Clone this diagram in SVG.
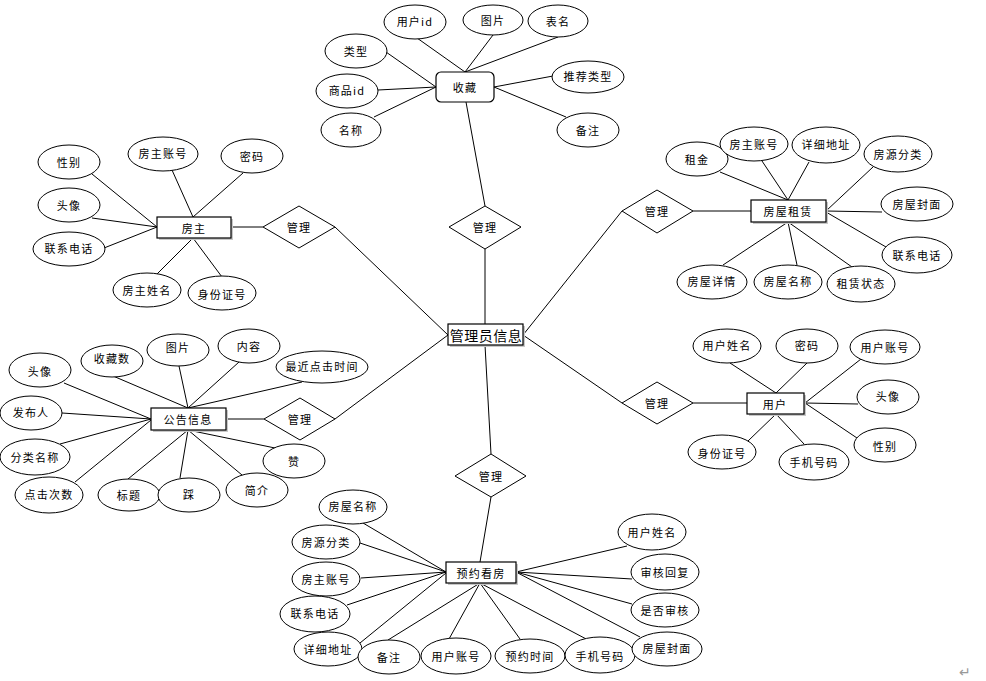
<svg xmlns="http://www.w3.org/2000/svg" width="986" height="681" viewBox="0 0 986 681">
<style>
.bg{fill:#fff}
.e{fill:#fff;stroke:#000;stroke-width:1}
.r{fill:#fff;stroke:#000;stroke-width:1.2}
.sh{fill:#c8c8c8;stroke:none}
.d{fill:#fff;stroke:#000;stroke-width:1}
.c line{stroke:#000;stroke-width:1}
text{font-family:"Noto Sans CJK SC","Noto Sans",sans-serif;font-size:11px;fill:#000;text-anchor:middle;dominant-baseline:central;letter-spacing:1.2px}
.big{font-size:14px;letter-spacing:0.5px}
</style>
<rect class="bg" x="0" y="0" width="986" height="681"/>
<g class="c" id="connectors">
<!-- center links -->
<line x1="485" y1="324" x2="485" y2="249"/>
<line x1="485" y1="206" x2="466" y2="102"/>
<line x1="485" y1="345" x2="491" y2="454"/>
<line x1="491" y1="497" x2="480" y2="562"/>
<line x1="448" y1="335" x2="335" y2="227"/>
<line x1="263" y1="227" x2="231" y2="227"/>
<line x1="448" y1="335" x2="335" y2="419"/>
<line x1="264" y1="419" x2="226" y2="419"/>
<line x1="523" y1="335" x2="622" y2="211"/>
<line x1="693" y1="211" x2="751" y2="211"/>
<line x1="523" y1="335" x2="622" y2="403"/>
<line x1="693" y1="403" x2="747" y2="403"/>
<!-- 收藏 -->
<line x1="465" y1="72" x2="417" y2="38"/>
<line x1="465" y1="72" x2="493" y2="35"/>
<line x1="465" y1="72" x2="558" y2="37"/>
<line x1="436" y1="87" x2="386" y2="52"/>
<line x1="436" y1="87" x2="378" y2="90"/>
<line x1="436" y1="87" x2="374" y2="117"/>
<line x1="494" y1="87" x2="553" y2="76"/>
<line x1="494" y1="87" x2="566" y2="117"/>
<!-- 房主 -->
<line x1="157" y1="227" x2="92" y2="174"/>
<line x1="157" y1="227" x2="92" y2="218"/>
<line x1="157" y1="227" x2="104" y2="248"/>
<line x1="193" y1="217" x2="172" y2="170"/>
<line x1="193" y1="217" x2="243" y2="173"/>
<line x1="193" y1="238" x2="157" y2="274"/>
<line x1="193" y1="238" x2="222" y2="277"/>
<!-- 房屋租赁 -->
<line x1="788" y1="200" x2="720" y2="172"/>
<line x1="788" y1="200" x2="762" y2="161"/>
<line x1="788" y1="200" x2="809" y2="162"/>
<line x1="826" y1="211" x2="873" y2="167"/>
<line x1="826" y1="211" x2="882" y2="212"/>
<line x1="826" y1="212" x2="886" y2="247"/>
<line x1="788" y1="222" x2="723" y2="265"/>
<line x1="788" y1="222" x2="797" y2="265"/>
<line x1="788" y1="222" x2="852" y2="267"/>
<!-- 公告信息 -->
<line x1="151" y1="419" x2="64" y2="383"/>
<line x1="151" y1="419" x2="62" y2="413"/>
<line x1="151" y1="419" x2="60" y2="444"/>
<line x1="151" y1="420" x2="75" y2="482"/>
<line x1="188" y1="408" x2="113" y2="376"/>
<line x1="188" y1="408" x2="179" y2="366"/>
<line x1="188" y1="408" x2="239" y2="362"/>
<line x1="188" y1="408" x2="302" y2="382"/>
<line x1="188" y1="430" x2="128" y2="479"/>
<line x1="188" y1="430" x2="180" y2="478"/>
<line x1="188" y1="430" x2="242" y2="475"/>
<line x1="188" y1="430" x2="275" y2="448"/>
<!-- 用户 -->
<line x1="776" y1="393" x2="730" y2="363"/>
<line x1="776" y1="393" x2="807" y2="363"/>
<line x1="805" y1="403" x2="861" y2="359"/>
<line x1="805" y1="403" x2="858" y2="404"/>
<line x1="805" y1="403" x2="857" y2="438"/>
<line x1="776" y1="414" x2="748" y2="441"/>
<line x1="776" y1="414" x2="804" y2="444"/>
<!-- 预约看房 -->
<line x1="446" y1="572" x2="363" y2="523"/>
<line x1="446" y1="572" x2="360" y2="543"/>
<line x1="446" y1="572" x2="361" y2="578"/>
<line x1="446" y1="572" x2="347" y2="605"/>
<line x1="446" y1="573" x2="360" y2="643"/>
<line x1="480" y1="583" x2="388" y2="640"/>
<line x1="480" y1="583" x2="449" y2="639"/>
<line x1="480" y1="583" x2="520" y2="639"/>
<line x1="480" y1="583" x2="590" y2="641"/>
<line x1="516" y1="572" x2="627" y2="546"/>
<line x1="516" y1="572" x2="632" y2="579"/>
<line x1="516" y1="572" x2="632" y2="604"/>
<line x1="516" y1="572" x2="640" y2="637"/>
</g>

<g id="admin">
<rect class="sh" x="450" y="326" width="75" height="21"/>
<rect class="r" x="448" y="324" width="75" height="21"/>
<text class="big" x="486" y="334.5">管理员信息</text>
</g>

<g id="rel-top"><polygon class="d" points="485,206 521,227 485,249 449,227"/><text x="485" y="227">管理</text></g>
<g id="rel-bottom"><polygon class="d" points="491,454 526,476 491,497 455,476"/><text x="491" y="476">管理</text></g>
<g id="rel-fangzhu"><polygon class="d" points="299,206 335,227 299,248 263,227"/><text x="299" y="227">管理</text></g>
<g id="rel-gonggao"><polygon class="d" points="300,398 335,419 300,440 264,419"/><text x="300" y="419">管理</text></g>
<g id="rel-zulin"><polygon class="d" points="657,190 693,211 657,233 622,211"/><text x="657" y="211">管理</text></g>
<g id="rel-yonghu"><polygon class="d" points="657,382 693,403 657,424 622,403"/><text x="657" y="403">管理</text></g>

<g id="shoucang">
<rect class="r" x="436" y="72" width="58" height="30" rx="5"/>
<text x="465" y="87">收藏</text>
</g>
<g id="sc-attrs">
<ellipse class="e" cx="415" cy="22" rx="31" ry="17"/><text x="415" y="21">用户id</text>
<ellipse class="e" cx="493" cy="20" rx="30" ry="15"/><text x="493" y="20">图片</text>
<ellipse class="e" cx="558" cy="21" rx="30" ry="16"/><text x="558" y="21">表名</text>
<ellipse class="e" cx="356" cy="51" rx="31" ry="17"/><text x="356" y="51">类型</text>
<ellipse class="e" cx="347" cy="91" rx="31" ry="17"/><text x="347" y="90">商品id</text>
<ellipse class="e" cx="351" cy="130" rx="30" ry="17"/><text x="351" y="130">名称</text>
<ellipse class="e" cx="588" cy="77" rx="36" ry="16"/><text x="588" y="76">推荐类型</text>
<ellipse class="e" cx="588" cy="130" rx="31" ry="17"/><text x="588" y="130">备注</text>
</g>

<g id="fangzhu">
<rect class="sh" x="159" y="219" width="74" height="21"/>
<rect class="r" x="157" y="217" width="74" height="21"/>
<text x="194" y="227.5">房主</text>
</g>
<g id="fz-attrs">
<ellipse class="e" cx="69" cy="162" rx="31" ry="17"/><text x="69" y="162">性别</text>
<ellipse class="e" cx="163" cy="154" rx="35" ry="17"/><text x="163" y="153">房主账号</text>
<ellipse class="e" cx="252" cy="156" rx="31" ry="17"/><text x="252" y="156">密码</text>
<ellipse class="e" cx="69" cy="205" rx="31" ry="17"/><text x="69" y="205">头像</text>
<ellipse class="e" cx="69" cy="249" rx="36" ry="17"/><text x="69" y="248">联系电话</text>
<ellipse class="e" cx="147" cy="290" rx="34" ry="17"/><text x="147" y="290">房主姓名</text>
<ellipse class="e" cx="222" cy="293" rx="34" ry="17"/><text x="222" y="294">身份证号</text>
</g>

<g id="zulin">
<rect class="sh" x="753" y="202" width="75" height="22"/>
<rect class="r" x="751" y="200" width="75" height="22"/>
<text x="788" y="211">房屋租赁</text>
</g>
<g id="zl-attrs">
<ellipse class="e" cx="697" cy="159" rx="31" ry="17"/><text x="697" y="159">租金</text>
<ellipse class="e" cx="754" cy="144" rx="34" ry="17"/><text x="754" y="144">房主账号</text>
<ellipse class="e" cx="826" cy="145" rx="34" ry="18"/><text x="826" y="144">详细地址</text>
<ellipse class="e" cx="898" cy="154" rx="34" ry="18"/><text x="898" y="154">房源分类</text>
<ellipse class="e" cx="917" cy="204" rx="36" ry="17"/><text x="917" y="204">房屋封面</text>
<ellipse class="e" cx="917" cy="255" rx="35" ry="18"/><text x="917" y="255">联系电话</text>
<ellipse class="e" cx="712" cy="282" rx="35" ry="17"/><text x="712" y="281">房屋详情</text>
<ellipse class="e" cx="788" cy="282" rx="34" ry="17"/><text x="788" y="281">房屋名称</text>
<ellipse class="e" cx="861" cy="284" rx="34" ry="18"/><text x="861" y="283">租赁状态</text>
</g>

<g id="gonggao">
<rect class="sh" x="153" y="410" width="75" height="22"/>
<rect class="r" x="151" y="408" width="75" height="22"/>
<text x="188" y="419">公告信息</text>
</g>
<g id="gg-attrs">
<ellipse class="e" cx="40" cy="370" rx="31" ry="17"/><text x="40" y="371">头像</text>
<ellipse class="e" cx="112" cy="361" rx="31" ry="16"/><text x="112" y="358">收藏数</text>
<ellipse class="e" cx="178" cy="350" rx="31" ry="16"/><text x="178" y="347">图片</text>
<ellipse class="e" cx="249" cy="346" rx="31" ry="17"/><text x="249" y="346">内容</text>
<ellipse class="e" cx="322" cy="367" rx="46" ry="16"/><text x="322" y="366">最近点击时间</text>
<ellipse class="e" cx="31" cy="413" rx="31" ry="17"/><text x="31" y="412">发布人</text>
<ellipse class="e" cx="35" cy="457" rx="35" ry="18"/><text x="35" y="457">分类名称</text>
<ellipse class="e" cx="49" cy="495" rx="34" ry="18"/><text x="49" y="494">点击次数</text>
<ellipse class="e" cx="129" cy="495" rx="31" ry="16"/><text x="129" y="495">标题</text>
<ellipse class="e" cx="189" cy="495" rx="31" ry="17"/><text x="189" y="494">踩</text>
<ellipse class="e" cx="257" cy="490" rx="31" ry="17"/><text x="257" y="490">简介</text>
<ellipse class="e" cx="294" cy="461" rx="31" ry="17"/><text x="294" y="461">赞</text>
</g>

<g id="yonghu">
<rect class="sh" x="749" y="395" width="57" height="21"/>
<rect class="r" x="747" y="393" width="57" height="21"/>
<text x="775" y="403.5">用户</text>
</g>
<g id="yh-attrs">
<ellipse class="e" cx="727" cy="346" rx="34" ry="17"/><text x="727" y="345">用户姓名</text>
<ellipse class="e" cx="807" cy="346" rx="31" ry="17"/><text x="807" y="345">密码</text>
<ellipse class="e" cx="885" cy="347" rx="35" ry="17"/><text x="885" y="347">用户账号</text>
<ellipse class="e" cx="888" cy="397" rx="31" ry="17"/><text x="888" y="396">头像</text>
<ellipse class="e" cx="885" cy="445" rx="31" ry="17"/><text x="885" y="446">性别</text>
<ellipse class="e" cx="722" cy="452" rx="34" ry="17"/><text x="722" y="453">身份证号</text>
<ellipse class="e" cx="814" cy="462" rx="35" ry="18"/><text x="814" y="462">手机号码</text>
</g>

<g id="yuyue">
<rect class="sh" x="448" y="564" width="70" height="21"/>
<rect class="r" x="446" y="562" width="70" height="21"/>
<text x="481" y="572.5">预约看房</text>
</g>
<g id="yy-attrs">
<ellipse class="e" cx="353" cy="507" rx="34" ry="17"/><text x="353" y="506">房屋名称</text>
<ellipse class="e" cx="326" cy="542" rx="34" ry="17"/><text x="326" y="542">房源分类</text>
<ellipse class="e" cx="326" cy="579" rx="34" ry="17"/><text x="326" y="579">房主账号</text>
<ellipse class="e" cx="315" cy="614" rx="35" ry="18"/><text x="315" y="613">联系电话</text>
<ellipse class="e" cx="328" cy="649" rx="34" ry="17"/><text x="328" y="649">详细地址</text>
<ellipse class="e" cx="389" cy="657" rx="31" ry="17"/><text x="389" y="657">备注</text>
<ellipse class="e" cx="456" cy="656" rx="35" ry="18"/><text x="456" y="656">用户账号</text>
<ellipse class="e" cx="530" cy="656" rx="35" ry="17"/><text x="530" y="656">预约时间</text>
<ellipse class="e" cx="600" cy="655" rx="35" ry="18"/><text x="600" y="656">手机号码</text>
<ellipse class="e" cx="667" cy="649" rx="35" ry="17"/><text x="667" y="648">房屋封面</text>
<ellipse class="e" cx="652" cy="532" rx="34" ry="18"/><text x="652" y="532">用户姓名</text>
<ellipse class="e" cx="665" cy="572" rx="34" ry="18"/><text x="665" y="572">审核回复</text>
<ellipse class="e" cx="665" cy="610" rx="34" ry="17"/><text x="665" y="610">是否审核</text>
</g>
<text x="965" y="671" style="fill:#999;font-size:14px;letter-spacing:0">↵</text>
</svg>
